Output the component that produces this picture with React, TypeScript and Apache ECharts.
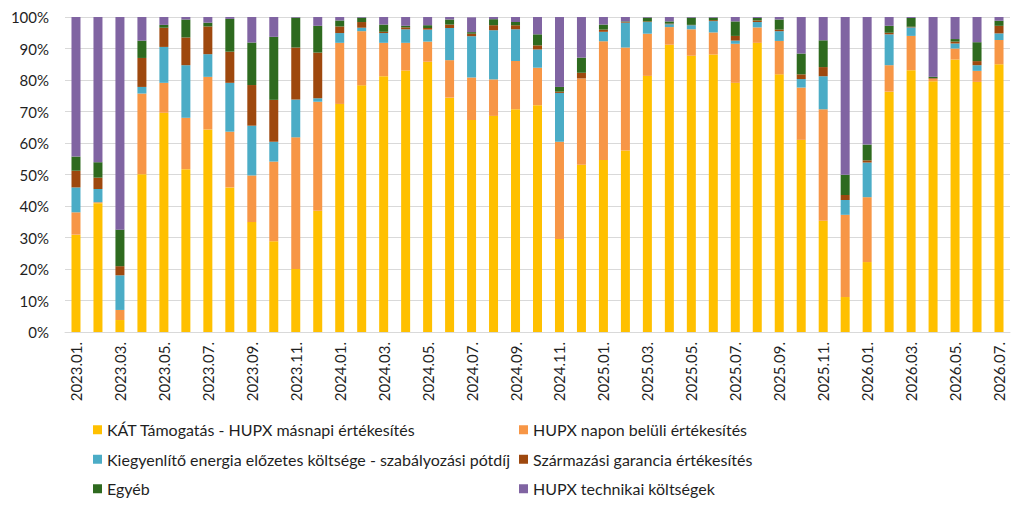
import { useEffect, useRef } from 'react';
import * as echarts from 'echarts';

const months = [
    '2023.01.', '2023.02.', '2023.03.', '2023.04.', '2023.05.', '2023.06.', '2023.07.', '2023.08.', '2023.09.', '2023.10.', '2023.11.', '2023.12.',
    '2024.01.', '2024.02.', '2024.03.', '2024.04.', '2024.05.', '2024.06.', '2024.07.', '2024.08.', '2024.09.', '2024.10.', '2024.11.', '2024.12.',
    '2025.01.', '2025.02.', '2025.03.', '2025.04.', '2025.05.', '2025.06.', '2025.07.', '2025.08.', '2025.09.', '2025.10.', '2025.11.', '2025.12.',
    '2026.01.', '2026.02.', '2026.03.', '2026.04.', '2026.05.', '2026.06.', '2026.07.',
];

// share of each cost item per month, in %
const katHupx = [
    30.9, 40.9, 3.8, 50.1, 69.6, 51.7, 64.3, 45.9, 34.9, 28.8, 20.0, 38.5,
    72.4, 78.3, 81.2, 83.0, 85.8, 74.4, 67.3, 68.6, 70.7, 72.0, 29.5, 53.1,
    54.6, 57.6, 81.3, 91.2, 87.7, 88.1, 79.1, 91.8, 81.8, 61.0, 35.3, 11.1,
    22.2, 76.3, 83.1, 79.6, 86.5, 79.4, 85.0,
];
const hupxIntraday = [
    7.1, 0.3, 3.2, 25.6, 9.5, 16.3, 16.7, 17.7, 14.8, 25.3, 41.8, 34.6,
    19.4, 17.2, 10.6, 8.8, 6.4, 11.9, 13.5, 11.6, 15.3, 11.9, 30.9, 27.4,
    37.7, 32.7, 13.4, 5.6, 8.4, 7.0, 12.4, 4.9, 10.6, 16.6, 35.4, 26.1,
    20.6, 8.4, 10.9, 0.8, 3.5, 3.5, 7.7,
];
const balancing = [
    7.9, 4.2, 11.0, 2.1, 11.4, 16.7, 7.2, 15.5, 15.8, 6.3, 12.0, 1.1,
    3.1, 1.1, 3.1, 4.3, 3.8, 10.2, 13.1, 15.6, 10.1, 5.8, 15.5, 0,
    3.0, 7.9, 3.7, 0.9, 1.3, 3.6, 1.0, 1.7, 3.1, 2.7, 10.5, 4.7,
    11.0, 9.8, 2.7, 0, 1.6, 1.8, 2.1,
];
const origin = [
    5.3, 3.6, 2.9, 9.2, 6.1, 8.8, 8.8, 9.9, 12.9, 13.3, 16.5, 14.5,
    2.1, 1.8, 0.4, 0.6, 0.5, 1.1, 0.8, 1.6, 1.3, 1.3, 0.4, 1.8,
    0.7, 0.2, 0.2, 0.2, 0.1, 0.3, 1.5, 0.5, 0.5, 1.5, 2.9, 1.6,
    0.7, 0.5, 0.2, 0.2, 0.6, 1.3, 2.4,
];
const other = [
    4.5, 4.9, 11.6, 5.5, 0.9, 5.7, 1.2, 10.4, 13.5, 20.0, 9.5, 8.5,
    1.9, 1.4, 2.3, 0.5, 0.9, 1.6, 0.5, 1.9, 1.0, 3.5, 1.5, 4.8,
    1.6, 0.2, 1.2, 0.7, 2.3, 0.8, 4.6, 0.8, 3.2, 6.6, 8.5, 6.4,
    5.0, 2.2, 2.8, 0.4, 0.8, 6.0, 1.6,
];
const hupxTech = [
    44.3, 46.1, 67.5, 7.5, 2.5, 0.8, 1.8, 0.6, 8.1, 6.3, 0.2, 2.8,
    1.1, 0.2, 2.4, 2.8, 2.6, 0.8, 4.7, 0.7, 1.6, 5.5, 22.2, 12.9,
    2.4, 1.4, 0.2, 1.4, 0.2, 0.2, 1.4, 0.3, 0.8, 11.6, 7.4, 50.1,
    40.5, 2.8, 0.3, 19.0, 7.0, 8.0, 1.2,
];

const seriesNames = [
    'KÁT Támogatás - HUPX másnapi értékesítés',
    'HUPX napon belüli értékesítés',
    'Kiegyenlítő energia előzetes költsége - szabályozási pótdíj',
    'Származási garancia értékesítés',
    'Egyéb',
    'HUPX technikai költségek',
];
const seriesData = [katHupx, hupxIntraday, balancing, origin, other, hupxTech];
const colors = ['#FFC000', '#F79646', '#4BACC6', '#9E480E', '#2E6A1F', '#8064A2'];

const font = 'Lato, Calibri, sans-serif';

export default function App() {
    const chartRef = useRef<HTMLDivElement>(null);

    useEffect(() => {
        if (!chartRef.current) return;
        const chart = echarts.init(chartRef.current, null, { renderer: 'svg' });

        const legendCommon = {
            orient: 'vertical',
            top: 416,
            itemWidth: 9,
            itemHeight: 9,
            itemGap: 12,
            icon: 'rect',
            textStyle: { fontFamily: font, fontSize: 16, color: '#1f1f1f', lineHeight: 17.5 },
        };

        chart.setOption({
            animation: false,
            color: colors,
            grid: { left: 65, right: 14, top: 17, bottom: 179 },
            legend: [
                { ...legendCommon, left: 88, data: [seriesNames[0], seriesNames[2], seriesNames[4]] },
                { ...legendCommon, left: 514, data: [seriesNames[1], seriesNames[3], seriesNames[5]] },
            ],
            xAxis: {
                type: 'category',
                data: months,
                axisLine: { lineStyle: { color: '#d9d9d9' } },
                axisTick: { show: false },
                axisLabel: {
                    interval: 1,
                    rotate: 90,
                    margin: 10,
                    fontFamily: font,
                    fontSize: 15,
                    color: '#1f1f1f',
                },
            },
            yAxis: {
                type: 'value',
                min: 0,
                max: 100,
                interval: 10,
                axisLine: { show: false },
                axisTick: { show: false },
                splitLine: { lineStyle: { color: '#d9d9d9' } },
                axisLabel: {
                    formatter: '{value}%',
                    margin: 16,
                    fontFamily: font,
                    fontSize: 15,
                    color: '#1f1f1f',
                },
            },
            series: seriesNames.map((name, i) => ({
                name,
                type: 'bar',
                stack: 'total',
                barWidth: 9,
                data: seriesData[i],
            })),
        });

        return () => {
            chart.dispose();
        };
    }, []);

    return <div ref={chartRef} style={{ width: '1024px', height: '511px', margin: '-8px' }} />;
}
